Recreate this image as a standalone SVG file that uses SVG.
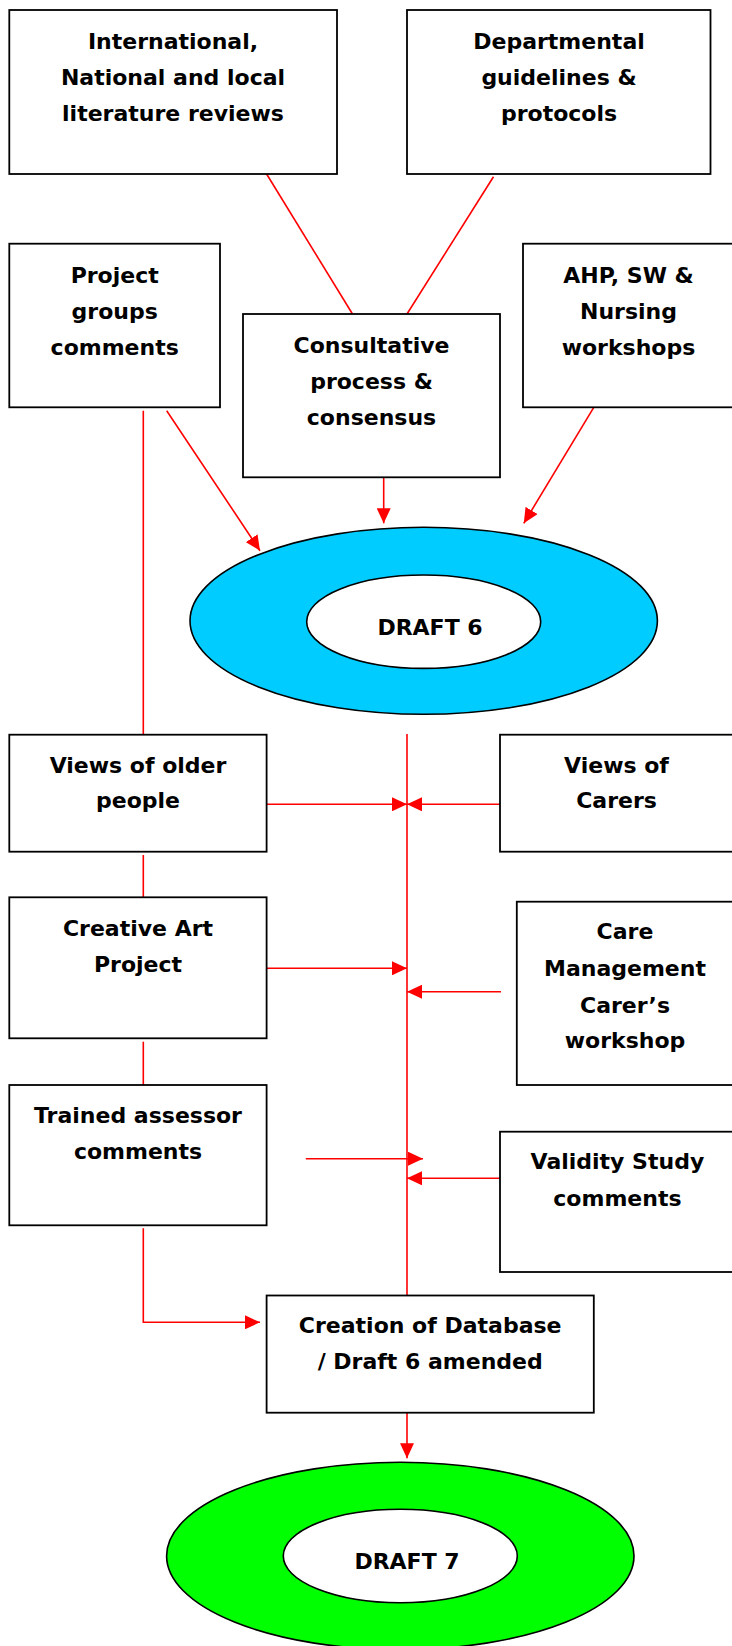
<svg xmlns="http://www.w3.org/2000/svg" width="732" height="1646" viewBox="0 0 732 1646">
<defs>
<style>
.box{fill:#fff;stroke:#000;stroke-width:1.8}
.t{font-family:"DejaVu Sans","Liberation Sans",sans-serif;font-weight:bold;font-size:22px;fill:#000;text-anchor:middle}
.c{fill:none;stroke:#f00;stroke-width:1.6}
.ring{stroke:#000;stroke-width:1.6}
</style>
<marker id="ah" markerUnits="userSpaceOnUse" markerWidth="16" markerHeight="14" refX="15" refY="7" orient="auto">
<path d="M0,0 L15,7 L0,14 z" fill="#f00"/>
</marker>
</defs>
<rect width="732" height="1646" fill="#fff"/>
<g id="connectors">
<line class="c" x1="266.6" y1="174" x2="352.5" y2="314"/>
<line class="c" x1="493.5" y1="176.7" x2="407" y2="314"/>
<line class="c" x1="143.3" y1="410.7" x2="143.3" y2="734.7"/>
<line class="c" x1="166.7" y1="410.7" x2="260" y2="550.7" marker-end="url(#ah)"/>
<line class="c" x1="383.7" y1="477.3" x2="383.7" y2="523.3" marker-end="url(#ah)"/>
<line class="c" x1="593.8" y1="407.3" x2="523.8" y2="523.3" marker-end="url(#ah)"/>
<line class="c" x1="407" y1="734" x2="407" y2="1295"/>
<line class="c" x1="266.6" y1="804.3" x2="407" y2="804.3" marker-end="url(#ah)"/>
<line class="c" x1="500" y1="804.3" x2="407" y2="804.3" marker-end="url(#ah)"/>
<line class="c" x1="143.3" y1="855" x2="143.3" y2="897.3"/>
<line class="c" x1="266.6" y1="968.3" x2="407" y2="968.3" marker-end="url(#ah)"/>
<line class="c" x1="501" y1="991.7" x2="407" y2="991.7" marker-end="url(#ah)"/>
<line class="c" x1="143.3" y1="1041.7" x2="143.3" y2="1085"/>
<line class="c" x1="305.8" y1="1158.7" x2="423" y2="1158.7" marker-end="url(#ah)"/>
<line class="c" x1="500" y1="1178.3" x2="407" y2="1178.3" marker-end="url(#ah)"/>
<path class="c" d="M143.3,1228.3 V1322.3 H260" marker-end="url(#ah)"/>
<line class="c" x1="407" y1="1412.7" x2="407" y2="1458.3" marker-end="url(#ah)"/>
</g>
<g id="international">
<rect class="box" x="9.3" y="10" width="327.7" height="164"/>
<text class="t" x="173" y="49">International,</text>
<text class="t" x="173" y="85">National and local</text>
<text class="t" x="173" y="121">literature reviews</text>
</g>
<g id="departmental">
<rect class="box" x="407" y="10" width="303.5" height="164"/>
<text class="t" x="559" y="49">Departmental</text>
<text class="t" x="559" y="85">guidelines &amp;</text>
<text class="t" x="559" y="121">protocols</text>
</g>
<g id="project">
<rect class="box" x="9.3" y="243.7" width="210.7" height="163.6"/>
<text class="t" x="114.7" y="282.7">Project</text>
<text class="t" x="114.7" y="318.7">groups</text>
<text class="t" x="114.7" y="354.7">comments</text>
</g>
<g id="consultative">
<rect class="box" x="243" y="314" width="257" height="163.3"/>
<text class="t" x="371.5" y="352.7">Consultative</text>
<text class="t" x="371.5" y="388.5">process &amp;</text>
<text class="t" x="371.5" y="424.5">consensus</text>
</g>
<g id="ahp">
<rect class="box" x="523" y="243.7" width="220" height="163.6"/>
<text class="t" x="628.5" y="282.7">AHP, SW &amp;</text>
<text class="t" x="628.5" y="318.7">Nursing</text>
<text class="t" x="628.5" y="354.7">workshops</text>
</g>
<g id="draft6">
<ellipse class="ring" cx="423.7" cy="620.8" rx="233.7" ry="93.5" fill="#00ccff"/>
<ellipse class="ring" cx="423.7" cy="621.7" rx="117" ry="46.7" fill="#fff"/>
<text class="t" x="430" y="635.3">DRAFT 6</text>
</g>
<g id="older">
<rect class="box" x="9.3" y="734.7" width="257.3" height="117"/>
<text class="t" x="138" y="773.3">Views of older</text>
<text class="t" x="138" y="808.3">people</text>
</g>
<g id="carers">
<rect class="box" x="500" y="734.7" width="243" height="117"/>
<text class="t" x="616.5" y="773.3">Views of</text>
<text class="t" x="616.5" y="808.3">Carers</text>
</g>
<g id="creative">
<rect class="box" x="9.3" y="897.3" width="257.3" height="141"/>
<text class="t" x="138" y="936">Creative Art</text>
<text class="t" x="138" y="971.7">Project</text>
</g>
<g id="caremgmt">
<rect class="box" x="516.8" y="901.7" width="226" height="183.3"/>
<text class="t" x="625" y="939.3">Care</text>
<text class="t" x="625" y="976">Management</text>
<text class="t" x="625" y="1012.7">Carer’s</text>
<text class="t" x="625" y="1048.3">workshop</text>
</g>
<g id="trained">
<rect class="box" x="9.3" y="1085" width="257.3" height="140.3"/>
<text class="t" x="138" y="1122.7">Trained assessor</text>
<text class="t" x="138" y="1159.3">comments</text>
</g>
<g id="validity">
<rect class="box" x="500" y="1131.7" width="243" height="140.3"/>
<text class="t" x="617.4" y="1169.3">Validity Study</text>
<text class="t" x="617.4" y="1206">comments</text>
</g>
<g id="creation">
<rect class="box" x="266.6" y="1295.5" width="327.2" height="117.2"/>
<text class="t" x="430.2" y="1333.3">Creation of Database</text>
<text class="t" x="430.2" y="1369.3">/ Draft 6 amended</text>
</g>
<g id="draft7">
<ellipse class="ring" cx="400.3" cy="1556" rx="233.7" ry="93.7" fill="#00ff00"/>
<ellipse class="ring" cx="400.3" cy="1556" rx="117" ry="46.7" fill="#fff"/>
<text class="t" x="407" y="1569.3">DRAFT 7</text>
</g>
</svg>
